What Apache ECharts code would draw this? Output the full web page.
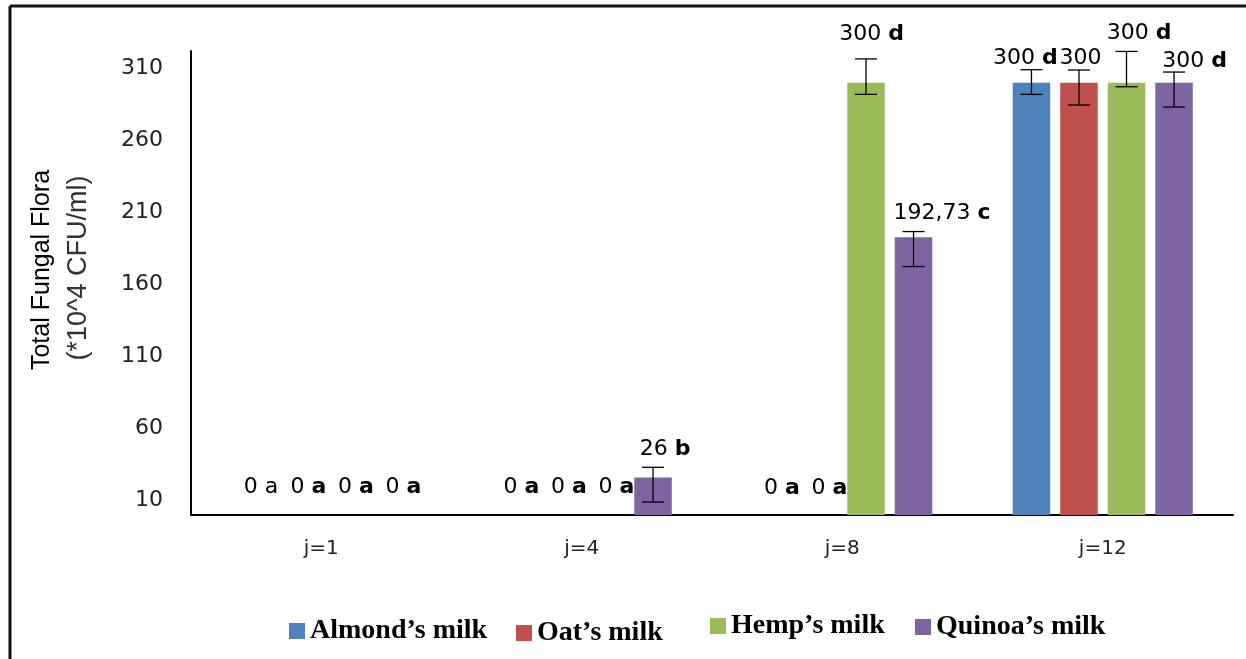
<!DOCTYPE html>
<html>
<head>
<meta charset="utf-8">
<script src="https://cdn.jsdelivr.net/npm/echarts@6/dist/echarts.min.js"></script>
<style>
  html, body { margin: 0; padding: 0; background: #fff; }
  #chart { width: 1246px; height: 659px; }
</style>
</head>
<body>
<div id="chart"></div>
<script>
// --- data ---
var categories = ['j=1', 'j=4', 'j=8', 'j=12'];
var seriesNames = ['Almond\u2019s milk', 'Oat\u2019s milk', 'Hemp\u2019s milk', 'Quinoa\u2019s milk'];

var almond = [0, 0, 0, 300];
var oat = [0, 0, 0, 300];
var hemp = [0, 0, 300, 300];
var quinoa = [0, 26, 192.73, 300];

var almondLetters = ['a', 'a', 'a', 'd'];
var oatLetters = ['a', 'a', 'a', ''];
var hempLetters = ['a', 'a', 'd', 'd'];
var quinoaLetters = ['a', 'b', 'c', 'd'];

// error bar bounds (null = no error bar)
var almondErrLow = [null, null, null, 291.9];
var almondErrHigh = [null, null, null, 309];
var oatErrLow = [null, null, null, 284.5];
var oatErrHigh = [null, null, null, 308.8];
var hempErrLow = [null, null, 291.9, 297.2];
var hempErrHigh = [null, null, 316.5, 321.7];
var quinoaErrLow = [null, 9, 172.4, 283.1];
var quinoaErrHigh = [null, 33.1, 196.7, 307.4];

var yTickLabels = [10, 60, 110, 160, 210, 260, 310];

// --- layout / style ---
var colors = ['#4F81BD', '#C0504D', '#9BBB59', '#8064A2'];
var BAR_W = 0.144;   // share of category band
var BAR_GAP = 0.267; // share of bar width
var labelFont = 'DejaVu Sans';

// label nudges [dx, dy] per series / category (labels were hand placed)
var labelOffsets = [
  [[11, -16], [11, -16], [11, -15], [-6, -12]],
  [[11, -16], [11, -16], [11, -15], [1.5, -12]],
  [[11, -16], [11, -16], [5.5, -36], [12.5, -37]],
  [[11, -16], [12, -16], [28.5, -12], [20.5, -9]]
];
// legend item positions (left, top incl. 5px legend padding)
var legendPos = [[284, 612], [511, 614], [705, 607], [910, 608]];

var values = [almond, oat, hemp, quinoa];
var letters = [almondLetters, oatLetters, hempLetters, quinoaLetters];
var errLow = [almondErrLow, oatErrLow, hempErrLow, quinoaErrLow];
var errHigh = [almondErrHigh, oatErrHigh, hempErrHigh, quinoaErrHigh];

function fmt(v) { return String(v).replace('.', ','); }

var barSeries = values.map(function(vals, s) {
  return {
    name: seriesNames[s],
    type: 'bar',
    barWidth: (BAR_W * 100) + '%',
    barGap: (BAR_GAP * 100) + '%',
    itemStyle: { color: colors[s] },
    z: 2,
    data: vals.map(function(v, c) {
      var letter = letters[s][c];
      var plain = (s === 0 && c === 0);
      return {
        value: v,
        label: {
          show: true,
          position: 'top',
          distance: 0,
          offset: labelOffsets[s][c],
          fontFamily: labelFont,
          fontSize: 22,
          lineHeight: 24,
          color: '#000',
          formatter: letter ? '{v|' + fmt(v) + '} {' + (plain ? 'p' : 'l') + '|' + letter + '}' : '{v|' + fmt(v) + '}',
          rich: {
            v: { fontFamily: labelFont, fontSize: 22, lineHeight: 24, color: '#000' },
            l: { fontFamily: labelFont, fontSize: 22, lineHeight: 24, fontWeight: 'bold', color: '#000' },
            p: { fontFamily: labelFont, fontSize: 22, lineHeight: 24, color: '#000' }
          }
        }
      };
    })
  };
});

var errData = [];
for (var s = 0; s < 4; s++) {
  for (var c = 0; c < categories.length; c++) {
    if (errLow[s][c] != null) errData.push([c, s, errLow[s][c], errHigh[s][c]]);
  }
}

var errSeries = {
  type: 'custom',
  z: 5,
  silent: true,
  encode: { x: 0, y: [2, 3] },
  data: errData,
  renderItem: function(params, api) {
    var c = api.value(0), s = api.value(1);
    var lo = api.coord([c, api.value(2)]);
    var hi = api.coord([c, api.value(3)]);
    var band = api.size([1, 0])[0];
    var bw = band * BAR_W;
    var x = lo[0] + (s - 1.5) * (bw * (1 + BAR_GAP));
    var cap = 11;
    var st = { stroke: '#000', lineWidth: 1.3 };
    return {
      type: 'group',
      children: [
        { type: 'line', shape: { x1: x, y1: lo[1], x2: x, y2: hi[1] }, style: st },
        { type: 'line', shape: { x1: x - cap, y1: lo[1], x2: x + cap, y2: lo[1] }, style: st },
        { type: 'line', shape: { x1: x - cap, y1: hi[1], x2: x + cap, y2: hi[1] }, style: st }
      ]
    };
  }
};

var legends = seriesNames.map(function(n, i) {
  return {
    data: [n],
    left: legendPos[i][0],
    top: legendPos[i][1],
    itemWidth: 16,
    itemHeight: 16,
    icon: 'rect',
    textStyle: { fontFamily: 'Liberation Serif', fontWeight: 'bold', fontSize: 28, color: '#000' }
  };
});

var chart = echarts.init(document.getElementById('chart'), null, { renderer: 'canvas' });
chart.setOption({
  animation: false,
  backgroundColor: '#fff',
  color: colors,
  legend: legends,
  grid: { left: 191, right: 13, top: 51, bottom: 144, containLabel: false },
  xAxis: {
    type: 'category',
    data: categories,
    axisLine: { lineStyle: { color: '#000', width: 2 } },
    axisTick: { show: false },
    axisLabel: { fontFamily: labelFont, fontSize: 20, color: '#222', margin: 24 }
  },
  yAxis: {
    type: 'value',
    min: 0,
    max: 322,
    interval: 10,
    axisLine: { show: true, lineStyle: { color: '#000', width: 2 } },
    axisTick: { show: false },
    splitLine: { show: false },
    axisLabel: {
      fontFamily: labelFont,
      fontSize: 22,
      color: '#222',
      margin: 28,
      showMaxLabel: false,
      formatter: function(v) { return yTickLabels.indexOf(v) >= 0 ? String(v) : ''; }
    }
  },
  graphic: [
    { type: 'line', shape: { x1: 10, y1: 6, x2: 10, y2: 659 }, style: { stroke: '#111', lineWidth: 3 } },
    { type: 'line', shape: { x1: 10, y1: 6, x2: 1246, y2: 6 }, style: { stroke: '#111', lineWidth: 3 } },
    {
      type: 'text', x: 42, y: 270, rotation: Math.PI / 2, z: 10,
      style: { text: 'Total Fungal Flora', fontFamily: 'Liberation Sans', fontSize: 25, fill: '#000',
               textAlign: 'center', textVerticalAlign: 'middle' }
    },
    {
      type: 'text', x: 79, y: 268, rotation: Math.PI / 2, z: 10,
      style: { text: '(*10^4 CFU/ml)', fontFamily: 'Liberation Sans', fontSize: 27, fill: '#333',
               textAlign: 'center', textVerticalAlign: 'middle' }
    }
  ],
  series: barSeries.concat([errSeries])
});
</script>
</body>
</html>
